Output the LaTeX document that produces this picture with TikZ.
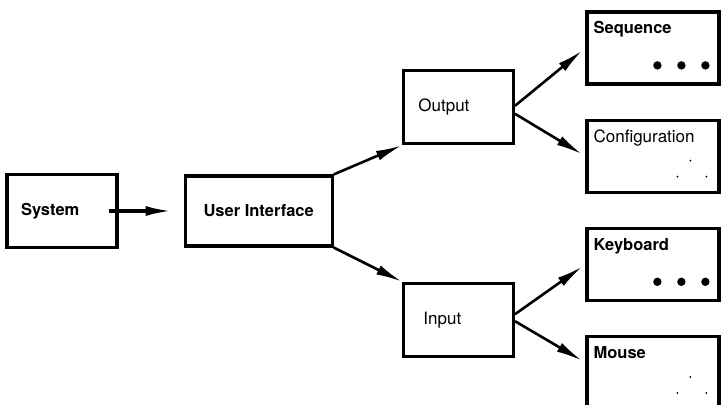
\documentclass[tikz,border=0pt]{standalone}
\usepackage{fontspec}
\setmainfont{TeX Gyre Heros}
\usepackage{tikz}
\usetikzlibrary{arrows.meta,positioning}
\tikzset{
    mybox/.style={rectangle, draw=black, line width=3.2pt, minimum width=110pt, minimum height=73pt, inner sep=0pt, text centered},
    midbox/.style={mybox, align=left, text width=80pt, inner xsep=15pt},
    leafbox/.style={mybox, minimum width=132pt, minimum height=72pt},
    leaftext/.style={anchor=north west, inner sep=0pt, xshift=8pt, yshift=-11pt},
    boldtext/.style={font=\fontsize{16.5}{19}\selectfont\bfseries},
    plaintext/.style={font=\fontsize{17}{20}\selectfont},
    pil/.style={-{Latex[length=26pt,width=10pt]}, line width=2.6pt}
}
\begin{document}
\begin{tikzpicture}[x=1pt, y=-1pt]
    \useasboundingbox (0,0) rectangle (725,404);

    \node[midbox, boldtext, inner xsep=14pt, text width=82pt] (system) at (62,211) {System};
    \node[mybox, boldtext, minimum width=147pt, minimum height=70pt, right=65pt of system] (ui)
      {User Interface};
    \node[midbox, plaintext, above right=29pt and 68pt of ui] (output) {Output};
    \node[midbox, plaintext, inner xsep=20pt, text width=70pt, below right=34pt and 68pt of ui] (input)
      {Input};

    \node[leafbox, label={[leaftext, boldtext]north west:Sequence}] (seq) at (653,48) {};
    \node[leafbox, below=33pt of seq, label={[leaftext, plaintext]north west:Configuration}] (config) {};
    \node[leafbox, below=33pt of config, label={[leaftext, boldtext]north west:Keyboard}] (keyb) {};
    \node[leafbox, below=33pt of keyb, label={[leaftext, boldtext]north west:Mouse}] (mouse) {};

    % dots
    \foreach \n in {seq,keyb}
      \foreach \dx in {72,96,120}
        \fill[shift={(\n.north west)}] (\dx,55) circle (4.2pt);
    \foreach \n in {config,mouse}
      \foreach \p in {(105,42),(92,58),(121,58)}
        \fill[shift={(\n.north west)}] \p circle (1pt);

    \draw[pil, line width=3.2pt, shorten <=-10pt, shorten >=12pt] (system.east) -- (ui.west);
    \draw[pil] (ui.north east) -- (output.south west);
    \draw[pil] (ui.south east) -- (input.north west);
    \draw[pil, shorten >=4pt] ([yshift=1.5pt]output.east) -- (seq.west);
    \draw[pil, shorten >=4pt] ([yshift=-6.5pt]output.east) -- (config.west);
    \draw[pil, shorten >=4pt] ([yshift=5.5pt]input.east) -- (keyb.west);
    \draw[pil, shorten >=4pt] ([yshift=-1.5pt]input.east) -- ([yshift=10pt]mouse.west);
\end{tikzpicture}
\end{document}
